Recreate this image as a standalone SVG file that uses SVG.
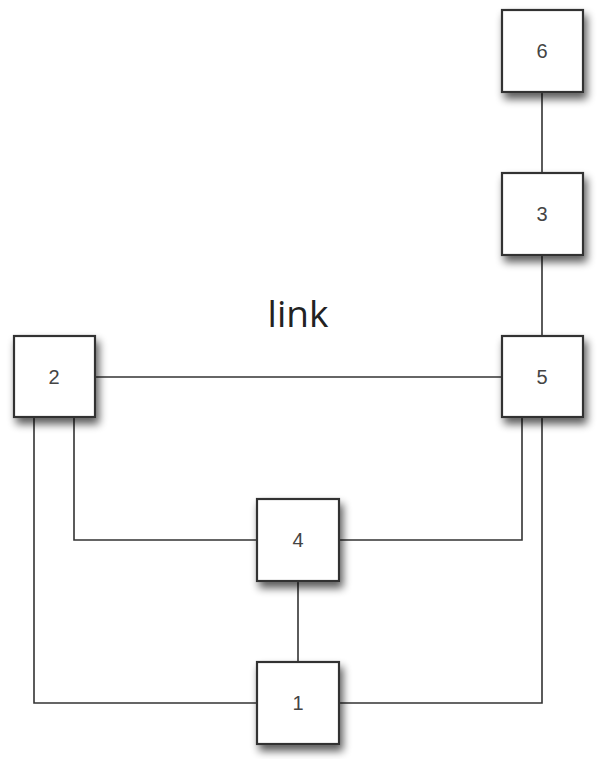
<svg xmlns="http://www.w3.org/2000/svg" width="598" height="759" viewBox="0 0 598 759">
<defs>
<filter id="sh" x="-30%" y="-30%" width="170%" height="170%">
<feGaussianBlur in="SourceAlpha" stdDeviation="4.5"/>
<feOffset dx="3" dy="6" result="b"/>
<feComponentTransfer><feFuncA type="linear" slope="0.65"/></feComponentTransfer>
<feMerge><feMergeNode/><feMergeNode in="SourceGraphic"/></feMerge>
</filter>
<style>
.box{fill:#fff;stroke:#333;stroke-width:2.2;filter:url(#sh)}
.lbl{font-family:"Liberation Sans",Arial,sans-serif;font-size:20px;fill:#444;text-anchor:middle}
.ln{fill:none;stroke:#333;stroke-width:1.6}
</style>
</defs>
<rect width="598" height="759" fill="#fff"/>
<g id="connectors">
<line class="ln" x1="542" y1="92" x2="542" y2="173"/>
<line class="ln" x1="542" y1="255" x2="542" y2="336"/>
<line class="ln" x1="95" y1="377" x2="502" y2="377"/>
<polyline class="ln" points="74,417 74,540 257,540"/>
<polyline class="ln" points="339,540 522,540 522,417"/>
<line class="ln" x1="298" y1="581" x2="298" y2="662"/>
<polyline class="ln" points="34,417 34,703 257,703"/>
<polyline class="ln" points="339,703 542,703 542,417"/>
</g>
<g id="node6"><rect class="box" x="502" y="10" width="81" height="82"/><text class="lbl" x="542" y="58">6</text></g>
<g id="node3"><rect class="box" x="502" y="173" width="81" height="82"/><text class="lbl" x="542" y="221">3</text></g>
<g id="node5"><rect class="box" x="502" y="336" width="81" height="81"/><text class="lbl" x="542" y="384">5</text></g>
<g id="node2"><rect class="box" x="14" y="336" width="81" height="81"/><text class="lbl" x="54" y="384">2</text></g>
<g id="node4"><rect class="box" x="257" y="499" width="82" height="82"/><text class="lbl" x="298" y="547">4</text></g>
<g id="node1"><rect class="box" x="257" y="662" width="82" height="82"/><text class="lbl" x="298" y="710">1</text></g>
<text x="298" y="327" font-family="'Open Sans','DejaVu Sans',sans-serif" font-size="37" fill="#222" text-anchor="middle">link</text>
</svg>
